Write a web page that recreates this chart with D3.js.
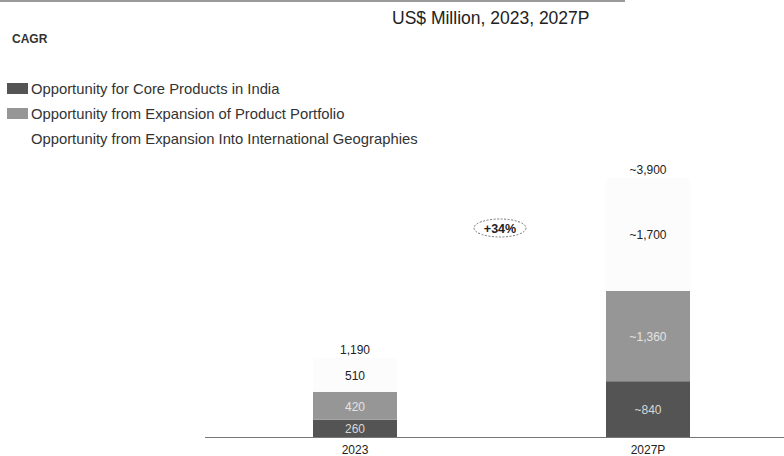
<!DOCTYPE html>
<html>
<head>
<meta charset="utf-8">
<script src="https://cdn.jsdelivr.net/npm/d3@7"></script>
<style>
  html, body { margin: 0; padding: 0; background: #fff; }
  svg { display: block; font-family: "Liberation Sans", Arial, sans-serif; }
</style>
</head>
<body>
<svg id="chart" width="784" height="456"></svg>
<script>
// Market opportunity (US$ million)
const years = ["2023", "2027P"];
const seriesNames = [
  "Opportunity for Core Products in India",
  "Opportunity from Expansion of Product Portfolio",
  "Opportunity from Expansion Into International Geographies"
];
const coreIndia = [260, 840];
const productPortfolio = [420, 1360];
const international = [510, 1700];
const segmentLabels = [["260", "~840"], ["420", "~1,360"], ["510", "~1,700"]];
const totals = [1190, 3900];
const totalLabels = ["1,190", "~3,900"];
const cagrLabel = "+34%";

const colors = ["#545454", "#969696", "#fcfcfc"];
const insideText = ["#d8d8d8", "#e4e4e4", "#222"];

const svg = d3.select("#chart");

const rows = years.map((y, i) => ({
  year: y, core: coreIndia[i], portfolio: productPortfolio[i], intl: international[i]
}));
const keys = ["core", "portfolio", "intl"];
const stacked = d3.stack().keys(keys)(rows);

const baseY = 437;
const x = d3.scalePoint().domain(years).range([355, 648]);
const barW = 84;
const y = d3.scaleLinear().domain([0, 3900]).range([baseY, 178]);

// top rule
svg.append("line").attr("x1", 0).attr("x2", 625).attr("y1", 1).attr("y2", 1)
  .attr("stroke", "#9a9a9a").attr("stroke-width", 2);

// title
svg.append("text").attr("x", 392).attr("y", 24).attr("font-size", 17.5)
  .attr("fill", "#222").text("US$ Million, 2023, 2027P");

svg.append("text").attr("x", 12).attr("y", 43).attr("font-size", 12)
  .attr("font-weight", "bold").attr("fill", "#333").text("CAGR");

// legend
const legend = svg.append("g");
seriesNames.forEach((name, i) => {
  const ly = 89 + i * 25;
  if (i < 2) {
    legend.append("rect").attr("x", 7).attr("y", ly - 6).attr("width", 21).attr("height", 11)
      .attr("fill", colors[i]);
  }
  legend.append("text").attr("x", 31).attr("y", ly + 5).attr("font-size", 14.8)
    .attr("textLength", null)
    .attr("fill", "#333").text(name);
});

// bars
const layers = svg.append("g").selectAll("g").data(stacked).join("g")
  .attr("fill", (d, i) => colors[i]);
layers.selectAll("rect").data(d => d).join("rect")
  .attr("x", d => x(d.data.year) - barW / 2)
  .attr("width", barW)
  .attr("y", d => y(d[1]))
  .attr("height", d => y(d[0]) - y(d[1]));

// segment values
stacked.forEach((layer, li) => {
  layer.forEach((d, i) => {
    svg.append("text")
      .attr("x", x(d.data.year))
      .attr("y", (y(d[0]) + y(d[1])) / 2 + 5)
      .attr("text-anchor", "middle")
      .attr("font-size", 12)
      .attr("fill", insideText[li])
      .text(segmentLabels[li][i]);
  });
});

// totals
years.forEach((yr, i) => {
  svg.append("text").attr("x", x(yr)).attr("y", y(totals[i]) - 4)
    .attr("text-anchor", "middle").attr("font-size", 12).attr("fill", "#222")
    .text(totalLabels[i]);
});

// baseline
svg.append("line").attr("x1", 205).attr("x2", 784).attr("y1", baseY + 0.5).attr("y2", baseY + 0.5)
  .attr("stroke", "#777").attr("stroke-width", 1.2);

// category axis labels
years.forEach(yr => {
  svg.append("text").attr("x", x(yr)).attr("y", 454)
    .attr("text-anchor", "middle").attr("font-size", 12).attr("fill", "#222").text(yr);
});

// CAGR bubble
const cx = 500, cy = 228;
svg.append("ellipse").attr("cx", cx).attr("cy", cy).attr("rx", 26).attr("ry", 9)
  .attr("fill", "none").attr("stroke", "#666").attr("stroke-width", 0.9)
  .attr("stroke-dasharray", "2,1.5");
svg.append("text").attr("x", cx).attr("y", cy + 4.5).attr("text-anchor", "middle")
  .attr("font-size", 12.5).attr("font-weight", "bold").attr("fill", "#222").text(cagrLabel);
</script>
</body>
</html>
